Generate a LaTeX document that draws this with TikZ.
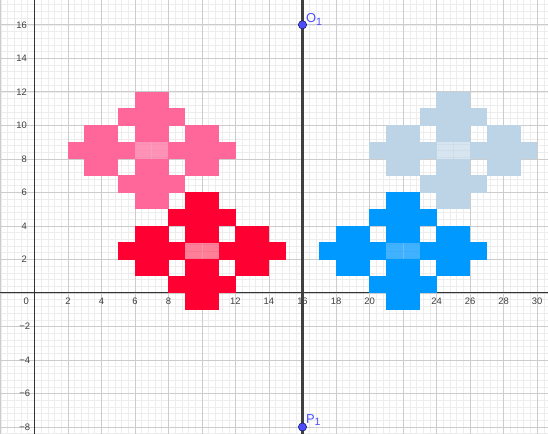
\documentclass[tikz,border=0pt]{standalone}
\usepackage{fontspec}
\setmainfont{Liberation Sans}
\definecolor{cpink}{HTML}{FF6699}
\definecolor{cred}{HTML}{FF0033}
\definecolor{cblue}{HTML}{0099FF}
\definecolor{clight}{HTML}{BCD4E6}
\definecolor{cpt}{HTML}{4D4DFF}
\definecolor{cptline}{HTML}{1A1A66}
\tikzset{
  minorgrid/.style={draw=black!7, line width=0.4pt},
  majorgrid/.style={draw=black!20, line width=0.6pt},
  axisline/.style={draw=black!80, line width=0.9pt},
  mirror/.style={draw=black!75, line width=2pt},
  ticklabel/.style={font=\fontsize{8}{9}\selectfont, text=black!75, inner sep=0.5pt},
  ptstyle/.style={circle, fill=cpt, draw=cptline, line width=0.5pt, minimum size=7pt, inner sep=0pt},
  ptlabel/.style={font=\fontsize{11}{12}\selectfont, text=cpt, inner sep=0pt}
}
\newcommand\flowershape[4]{%
  \begin{scope}[shift={(#1,#2)}]
    \foreach \a/\b/\c/\d in {-1/2.5/1/3.5, -2/1.5/2/2.5, -4/0.5/-2/1.5, -1/0.5/1/1.5, 2/0.5/4/1.5, -5/-0.5/-1/0.5, 1/-0.5/5/0.5, -4/-1.5/-2/-0.5, -1/-1.5/1/-0.5, 2/-1.5/4/-0.5, -2/-2.5/2/-1.5, -1/-3.5/1/-2.5}
      \fill[#3] (\a-0.01,\b-0.01) rectangle (\c+0.01,\d+0.01);
    \fill[white] (-1,-0.5) rectangle (1,0.5);
    \draw[minorgrid] (-1,-0.4) -- (1,-0.4) (-1,0) -- (1,0) (-1,0.4) -- (1,0.4);
    \fill[#3, opacity=#4] (-1,-0.5) rectangle (1,0.5);
  \end{scope}}
\newcommand\ptsub[1]{\raisebox{-0.4ex}{\fontsize{9}{10}\selectfont #1}}
\begin{document}
\begin{tikzpicture}[x=0.5cm,y=0.5cm]
  \useasboundingbox (-2.05,-8.41) rectangle (30.65,17.48);
  \fill[white] (-2.05,-8.41) rectangle (30.65,17.48);
  \begin{scope}
    \clip (-2.05,-8.41) rectangle (30.65,17.48);
    \draw[minorgrid] (-2.4,-8.8) grid[step=0.4] (30.8,17.6);
    \draw[majorgrid] (-4,-10) grid[step=2] (32,18);
  \end{scope}
  % axes
  \coordinate (xl) at (-2.05,0);
  \coordinate (xr) at (30.65,0);
  \coordinate (yt) at (0,17.48);
  \coordinate (yb) at (0,-8.41);
  \draw[axisline] (xl) -- (xr);
  \draw[axisline] (yb) -- (yt);
  % tick labels
  \node[ticklabel] (lx0) at (-0.48,-0.52) {0};
  \foreach \x in {2,4,...,30}
    \node[ticklabel] (lx\x) at (\x,-0.52) {\x};
  \foreach \y in {2,4,...,16}
    \node[ticklabel, anchor=east] (ly\y) at (-0.4,\y) {\y};
  \foreach \y in {2,4,6,8}
    \node[ticklabel, anchor=east] (lym\y) at (-0.2,-\y) {−\y};
  % shapes
  \flowershape{7}{8.5}{cpink}{0.7}
  \flowershape{10}{2.5}{cred}{0.5}
  \flowershape{25}{8.5}{clight}{0.6}
  \flowershape{22}{2.5}{cblue}{0.75}
  % grid through the light centres (major lines)
  \foreach \cx/\cy in {7/8.5,10/2.5,25/8.5,22/2.5}
    \draw[majorgrid, draw opacity=0.35] (\cx,\cy-0.5) -- (\cx,\cy+0.5);
  % mirror line and points
  \coordinate (ltop) at (16,17.6);
  \coordinate (lbot) at (16,-8.6);
  \draw[mirror] (ltop) -- (lbot);
  \node[ptstyle] (O1) at (16,16) {};
  \node[ptstyle] (P1) at (16,-8) {};
  \node[ptlabel, anchor=south west] (O1lab) at (16.2,15.95) {O\ptsub{1}};
  \node[ptlabel, anchor=south west] (P1lab) at (16.2,-7.95) {P\ptsub{1}};
\end{tikzpicture}
\end{document}
